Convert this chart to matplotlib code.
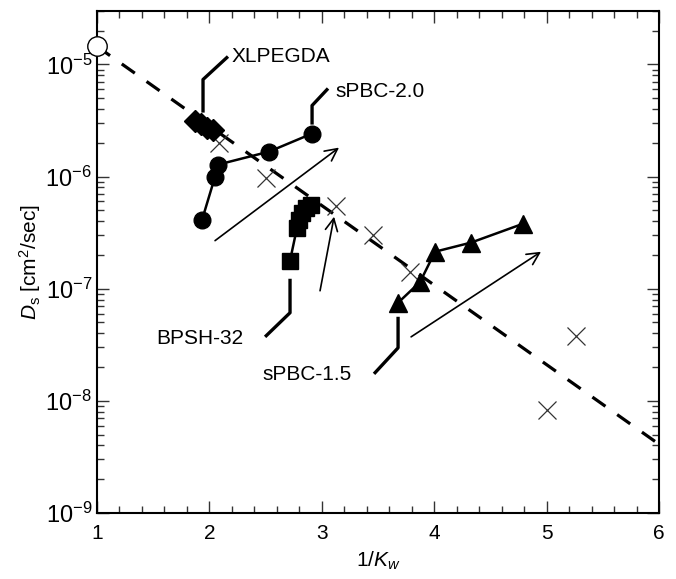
import matplotlib
matplotlib.use("Agg")
import matplotlib.pyplot as plt
from matplotlib.ticker import LogLocator, LogFormatterMathtext, MultipleLocator, NullFormatter

plt.rcParams['font.family'] = ['Liberation Sans', 'DejaVu Sans']
plt.rcParams['mathtext.fontset'] = 'custom'
plt.rcParams['mathtext.rm'] = 'Liberation Sans'
plt.rcParams['mathtext.it'] = 'Liberation Sans:italic'
plt.rcParams['mathtext.bf'] = 'Liberation Sans:bold'

# ---- data ----
ref_x = [1.0]
ref_y = [1.45e-5]

fit_x = [1.0, 6.0]
fit_y = [1.45e-5, 4.1e-9]

cross_x = [2.085, 2.504, 3.126, 3.456, 3.785, 5.262, 5.004]
cross_y = [2.01e-6, 9.8e-7, 5.5e-7, 3.03e-7, 1.42e-7, 3.8e-8, 8.3e-9]

xlpegda_x = [1.872, 1.925, 1.979, 2.032]
xlpegda_y = [3.16e-6, 2.97e-6, 2.74e-6, 2.58e-6]

spbc20_x = [2.913, 2.530, 2.077, 2.050, 1.934]
spbc20_y = [2.42e-6, 1.67e-6, 1.28e-6, 1.0e-6, 4.1e-7]

bpsh_x = [2.717, 2.779, 2.797, 2.824, 2.859, 2.904]
bpsh_y = [1.78e-7, 3.5e-7, 4.1e-7, 4.77e-7, 5.3e-7, 5.6e-7]

spbc15_x = [3.678, 3.874, 4.007, 4.327, 4.790]
spbc15_y = [7.5e-8, 1.15e-7, 2.14e-7, 2.58e-7, 3.8e-7]

# arrows: (x0, y0, x1, y1)
arrows = [
    (2.050, 10**-6.571, 3.153, 10**-5.741),
    (2.984, 10**-7.018, 3.109, 10**-6.357),
    (3.794, 10**-7.429, 4.950, 10**-6.670),
]

# labels with leader polylines
labels = [
    ("XLPEGDA", [1.943, 1.943, 2.165], [10**-5.429, 10**-5.134, 10**-4.929], 2.201, 10**-4.929, 'left'),
    ("sPBC-2.0", [2.913, 2.913, 3.055], [10**-5.536, 10**-5.366, 10**-5.214], 3.117, 10**-5.241, 'left'),
    ("BPSH-32", [2.717, 2.717, 2.495], [10**-6.911, 10**-7.214, 10**-7.429], 2.299, 10**-7.446, 'right'),
    ("sPBC-1.5", [3.678, 3.678, 3.464], [10**-7.25, 10**-7.527, 10**-7.759], 3.269, 10**-7.768, 'right'),
]

# ---- figure ----
fig = plt.figure(figsize=(6.76, 5.79), dpi=100)
ax = fig.add_axes([0.1435, 0.114, 0.8315, 0.867])
ax.set_yscale('log')
ax.set_xlim(1, 6)
ax.set_ylim(1e-9, 3e-5)

ax.plot(fit_x, fit_y, color='black', lw=2.3, dashes=(5, 4.5), zorder=2)
ax.plot(cross_x, cross_y, ls='none', marker='x', ms=13, mew=0.9, color='#333333', zorder=3)

ax.plot(xlpegda_x, xlpegda_y, color='black', lw=1.8, marker='D', ms=11, zorder=4)
ax.plot(spbc20_x, spbc20_y, color='black', lw=1.8, marker='o', ms=12, zorder=4)
ax.plot(bpsh_x, bpsh_y, color='black', lw=1.8, marker='s', ms=12, zorder=4)
ax.plot(spbc15_x, spbc15_y, color='black', lw=1.8, marker='^', ms=13, zorder=4)

ax.plot(ref_x, ref_y, ls='none', marker='o', ms=14, mfc='white', mec='black', mew=1.0,
        clip_on=False, zorder=5)

for x0, y0, x1, y1 in arrows:
    ax.annotate('', xy=(x1, y1), xytext=(x0, y0),
                arrowprops=dict(arrowstyle='->', lw=1.2, color='black',
                                mutation_scale=22, shrinkA=0, shrinkB=0))

for text, lx, ly, tx, ty, ha in labels:
    ax.plot(lx, ly, color='black', lw=2.4, solid_capstyle='butt', zorder=3)
    ax.text(tx, ty, text, ha=ha, va='center', fontsize=15)

# ticks
ax.xaxis.set_major_locator(MultipleLocator(1))
ax.xaxis.set_minor_locator(MultipleLocator(0.2))
ax.yaxis.set_major_locator(LogLocator(base=10, numticks=10))
ax.yaxis.set_minor_locator(LogLocator(base=10, subs=range(2, 10), numticks=20))
ax.yaxis.set_major_formatter(LogFormatterMathtext())
ax.yaxis.set_minor_formatter(NullFormatter())
ax.tick_params(which='both', direction='in', top=True, right=True, labelsize=15,
               width=1.0, color='#333333')
ax.tick_params(axis='y', which='major', labelsize=17)
ax.tick_params(which='major', length=8.5)
ax.tick_params(which='minor', length=5)
ax.tick_params(axis='x', pad=8)
for s in ax.spines.values():
    s.set_linewidth(1.5)

ax.set_xlabel(r'1/$\mathit{K}_{\mathit{w}}$', fontsize=15, labelpad=5)
ax.set_ylabel(r'$\mathit{D}_{\mathrm{s}}$ [cm$^2$/sec]', fontsize=15, labelpad=2)

fig.savefig('out.png', dpi=100)
